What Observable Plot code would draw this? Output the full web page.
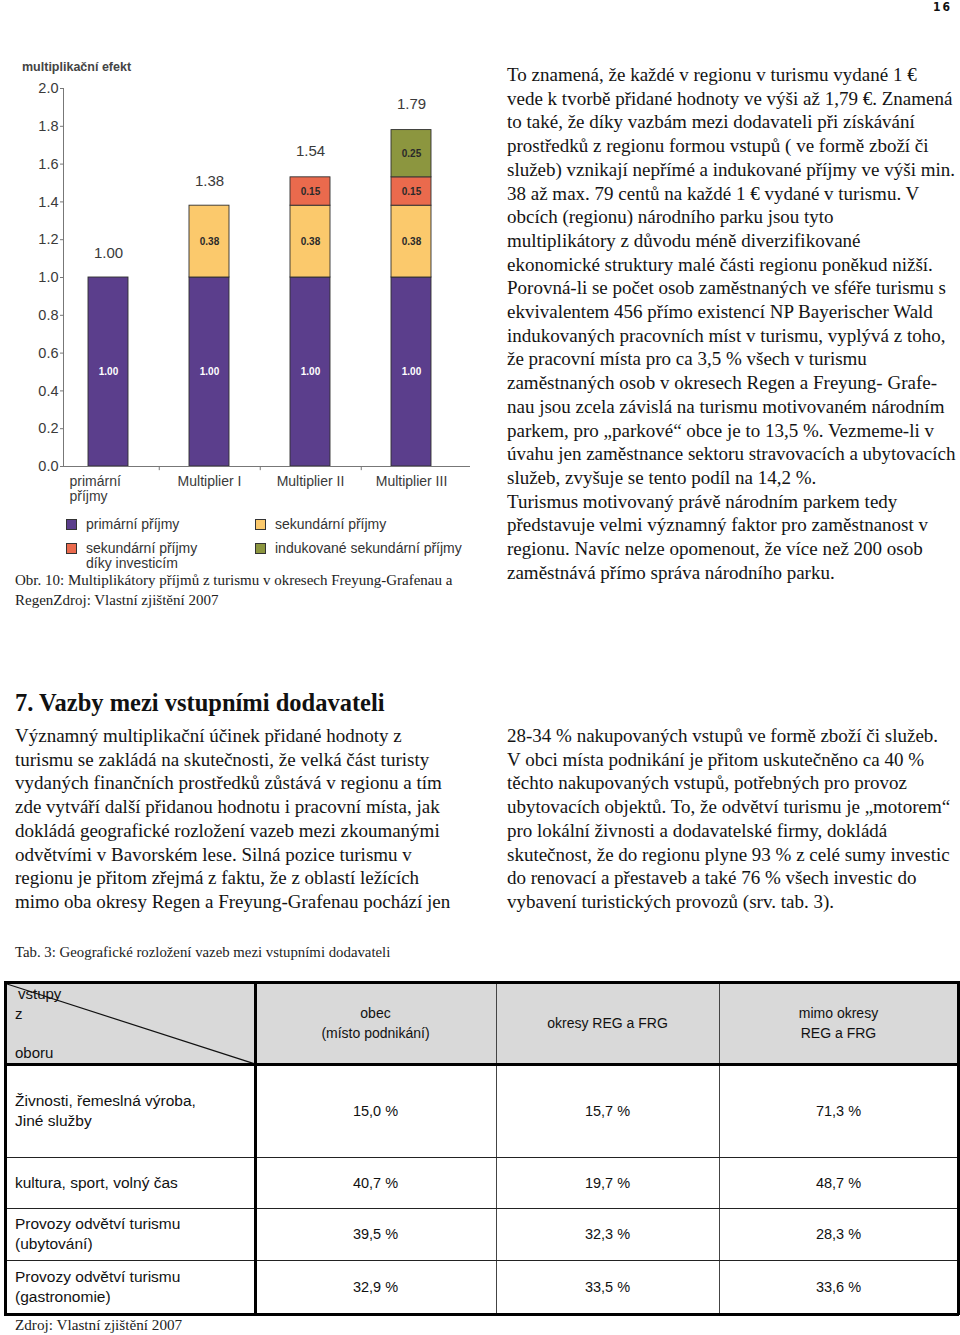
<!DOCTYPE html>
<html>
<head>
<meta charset="utf-8">
<script src="https://cdn.jsdelivr.net/npm/d3@7"></script>
<script src="https://cdn.jsdelivr.net/npm/@observablehq/plot@0.6"></script>
<style>
  html, body { margin: 0; padding: 0; background: #fff; }
  body { width: 960px; height: 1335px; position: relative; overflow: hidden; color: #111; }
  .abs { position: absolute; }
  .serif { font-family: "Liberation Serif", "DejaVu Serif", serif; }
  .body-text { font-size: 19px; line-height: 23.7px; white-space: nowrap; color: #141414; }
  .sans { font-family: "Liberation Sans", Arial, sans-serif; }
  .legend-item { position: absolute; font-family: "Liberation Sans", Arial, sans-serif; font-size: 14px; color: #333; line-height: 15px; white-space: nowrap; }
  .sw { position: absolute; width: 11px; height: 11px; border: 1px solid #333; box-sizing: border-box; }
  .cell { position: absolute; display: flex; align-items: center; font-family: "Liberation Sans", Arial, sans-serif; font-size: 14px; line-height: 20px; color: #111; }
  .cell.c { justify-content: center; text-align: center; }
  .cell.v { font-size: 14.5px; }
  .cell.l { padding-left: 10px; box-sizing: border-box; font-size: 15.5px; }
  .hl { position: absolute; background: #000; }
</style>
</head>
<body>
<div class="abs" style="right:8px; top:0px; font-family:'DejaVu Sans Condensed','DejaVu Sans',sans-serif; font-weight:bold; font-size:12px; letter-spacing:2px;">16</div>

<div class="abs sans" style="left:22px; top:60px; font-size:12.5px; font-weight:bold; color:#444;">multiplikační efekt</div>
<div id="chart" class="abs" style="left:0; top:60px;"></div>
<div id="legend" class="abs" style="left:0; top:510px; width:467px; height:62px; overflow:hidden;"></div>

<div class="abs serif" style="left:15px; top:570px; font-size:15px; line-height:20px; color:#222; white-space:nowrap;">Obr. 10: Multiplikátory příjmů z turismu v okresech Freyung-Grafenau a<br>RegenZdroj: Vlastní zjištění 2007</div>

<div id="rightcol" class="abs serif body-text" style="left:507px; top:63px;"></div>

<div class="abs serif" style="left:15px; top:689px; font-size:24.5px; font-weight:bold; white-space:nowrap; color:#111;">7. Vazby mezi vstupními dodavateli</div>
<div id="leftcol2" class="abs serif body-text" style="left:15px; top:724px;"></div>
<div id="rightcol2" class="abs serif body-text" style="left:507px; top:724px;"></div>

<div class="abs serif" style="left:15px; top:944px; font-size:14.8px; color:#222; white-space:nowrap;">Tab. 3: Geografické rozložení vazeb mezi vstupními dodavateli</div>
<div id="table" class="abs" style="left:0; top:0;"></div>
<div class="abs serif" style="left:15px; top:1316px; font-size:15.2px; color:#222; white-space:nowrap;">Zdroj: Vlastní zjištění 2007</div>

<script>
// ---------- chart data ----------
const categories = ["primární příjmy", "Multiplier I", "Multiplier II", "Multiplier III"];
const categoryLabels = ["primární\npříjmy", "Multiplier I", "Multiplier II", "Multiplier III"];
const seriesNames = ["primární příjmy", "sekundární příjmy", "sekundární příjmy díky investicím", "indukované sekundární příjmy"];
const primaryIncome = [1.00, 1.00, 1.00, 1.00];
const secondaryIncome = [0, 0.38, 0.38, 0.38];
const investmentIncome = [0, 0, 0.15, 0.15];
const inducedIncome = [0, 0, 0, 0.25];
const totals = [1.00, 1.38, 1.54, 1.79];
const yTicks = [0.0, 0.2, 0.4, 0.6, 0.8, 1.0, 1.2, 1.4, 1.6, 1.8, 2.0];
const seriesColors = ["#5b3e8c", "#fbc96c", "#ea6a4d", "#8c963f"];
const legendLabels = ["primární příjmy", "sekundární příjmy", "sekundární příjmy\ndíky investicím", "indukované sekundární příjmy"];

// ---------- text data ----------
const rightLines = [
  "To znamená, že každé v regionu v turismu vydané 1 €",
  "vede k tvorbě přidané hodnoty ve výši až 1,79 €. Znamená",
  "to také, že díky vazbám mezi dodavateli při získávání",
  "prostředků z regionu formou vstupů ( ve formě zboží či",
  "služeb) vznikají nepřímé a indukované příjmy ve výši min.",
  "38 až max. 79 centů na každé 1 € vydané v turismu. V",
  "obcích (regionu) národního parku jsou tyto",
  "multiplikátory z důvodu méně diverzifikované",
  "ekonomické struktury malé části regionu poněkud nižší.",
  "Porovná-li se počet osob zaměstnaných ve sféře turismu s",
  "ekvivalentem 456 přímo existencí NP Bayerischer Wald",
  "indukovaných pracovních míst v turismu, vyplývá z toho,",
  "že pracovní místa pro ca 3,5 % všech v turismu",
  "zaměstnaných osob v okresech Regen a Freyung- Grafe-",
  "nau jsou zcela závislá na turismu motivovaném národním",
  "parkem, pro „parkové“ obce je to 13,5 %. Vezmeme-li v",
  "úvahu jen zaměstnance sektoru stravovacích a ubytovacích",
  "služeb, zvyšuje se tento podíl na 14,2 %.",
  "Turismus motivovaný právě národním parkem tedy",
  "představuje velmi významný faktor pro zaměstnanost v",
  "regionu. Navíc nelze opomenout, že více než 200 osob",
  "zaměstnává přímo správa národního parku."
];
const leftLines2 = [
  "Významný multiplikační účinek přidané hodnoty z",
  "turismu se zakládá na skutečnosti, že velká část turisty",
  "vydaných finančních prostředků zůstává v regionu a tím",
  "zde vytváří další přidanou hodnotu i pracovní místa, jak",
  "dokládá geografické rozložení vazeb mezi zkoumanými",
  "odvětvími v Bavorském lese. Silná pozice turismu v",
  "regionu je přitom zřejmá z faktu, že z oblastí ležících",
  "mimo oba okresy Regen a Freyung-Grafenau pochází jen"
];
const rightLines2 = [
  "28-34 % nakupovaných vstupů ve formě zboží či služeb.",
  "V obci místa podnikání je přitom uskutečněno ca 40 %",
  "těchto nakupovaných vstupů, potřebných pro provoz",
  "ubytovacích objektů. To, že odvětví turismu je „motorem“",
  "pro lokální živnosti a dodavatelské firmy, dokládá",
  "skutečnost, že do regionu plyne 93 % z celé sumy investic",
  "do renovací a přestaveb a také 76 % všech investic do",
  "vybavení turistických provozů (srv. tab. 3)."
];

// ---------- table data ----------
const tableHeaders = ["obec\n(místo podnikání)", "okresy REG a FRG", "mimo okresy\nREG a FRG"];
const tableRowLabels = ["Živnosti, řemeslná výroba,\nJiné služby", "kultura, sport, volný čas", "Provozy odvětví turismu\n(ubytování)", "Provozy odvětví turismu\n(gastronomie)"];
const colObec = ["15,0 %", "40,7 %", "39,5 %", "32,9 %"];
const colOkresy = ["15,7 %", "19,7 %", "32,3 %", "33,5 %"];
const colMimo = ["71,3 %", "48,7 %", "28,3 %", "33,6 %"];

// ---------- text rendering ----------
function fillLines(id, lines) {
  const el = document.getElementById(id);
  el.innerHTML = lines.map(l => `<div>${l}</div>`).join("");
}
fillLines("rightcol", rightLines);
fillLines("leftcol2", leftLines2);
fillLines("rightcol2", rightLines2);

// ---------- chart ----------
const seriesValues = [primaryIncome, secondaryIncome, investmentIncome, inducedIncome];
const rows = [];
categories.forEach((c, i) => {
  seriesNames.forEach((s, j) => {
    const v = seriesValues[j][i];
    if (v > 0) rows.push({category: c, series: s, value: v});
  });
});
const totalRows = categories.map((c, i) => ({category: c, total: totals[i], label: categoryLabels[i]}));

const chart = Plot.plot({
  width: 480,
  height: 450,
  marginLeft: 63,
  marginRight: 10,
  marginTop: 28,
  marginBottom: 44,
  style: {fontFamily: "'Liberation Sans', Arial, sans-serif", fontSize: "14.5px", color: "#3a3a3a", background: "transparent", overflow: "visible"},
  x: {domain: categories, range: [57, 463], paddingInner: 0.6, paddingOuter: 0.3, axis: null},
  y: {domain: [0, 2], axis: null},
  color: {domain: seriesNames, range: seriesColors},
  marks: [
    Plot.barY(rows, {x: "category", y: "value", fill: "series", stroke: "#2f2f2f", strokeWidth: 0.9}),
    Plot.text(rows, Plot.stackY({x: "category", y: "value", z: "series",
      text: d => d.series === seriesNames[0] ? d.value.toFixed(2) : null,
      fill: "white", fontSize: 10, fontWeight: "bold"})),
    Plot.text(rows, Plot.stackY({x: "category", y: "value", z: "series",
      text: d => d.series !== seriesNames[0] ? d.value.toFixed(2) : null,
      fill: "#2a2a2a", fontSize: 10, fontWeight: "bold"})),
    Plot.text(totalRows, {x: "category", y: "total", text: d => d.total.toFixed(2), dy: -24, fontSize: 15, fill: "#3a3a3a"}),
    Plot.frame({anchor: "left", stroke: "#777"}),
    Plot.ruleY([0], {stroke: "#777"}),
    Plot.ruleX(categories.slice(0, 3), {x: d => d, dx: 50.75, y1: () => 0, y2: () => -0.022, stroke: "#777"}),
    Plot.axisY({ticks: yTicks, tickFormat: d => d.toFixed(1), tickSize: 3, tickPadding: 2, fontSize: 14.5, stroke: "#777", fill: "#3a3a3a"}),
    Plot.text(totalRows.slice(0, 1), {x: "category", text: "label", frameAnchor: "bottom", lineAnchor: "top", textAnchor: "start", dx: -39, dy: 9, fontSize: 14, lineHeight: 1.07, fill: "#3a3a3a"}),
    Plot.text(totalRows.slice(1), {x: "category", text: "label", frameAnchor: "bottom", lineAnchor: "top", dy: 9, fontSize: 14, lineHeight: 1.07, fill: "#3a3a3a"})
  ]
});
document.getElementById("chart").appendChild(chart);

// ---------- legend ----------
const legend = document.getElementById("legend");
const legendPos = [[66, 8], [255, 8], [66, 32], [255, 32]];
legendLabels.forEach((lab, i) => {
  const [x, y] = legendPos[i];
  const sw = document.createElement("div");
  sw.className = "sw";
  sw.style.left = x + "px";
  sw.style.top = (y + 1) + "px";
  sw.style.background = seriesColors[i];
  legend.appendChild(sw);
  const t = document.createElement("div");
  t.className = "legend-item";
  t.style.left = (x + 20) + "px";
  t.style.top = (y - 1) + "px";
  t.innerHTML = lab.replace("\n", "<br>");
  legend.appendChild(t);
});

// ---------- table ----------
const table = document.getElementById("table");
const colX = [5, 255, 496, 719, 958];
const rowY = [982, 1064, 1157, 1208, 1260, 1314];
function cell(x0, x1, y0, y1, html, cls, bg) {
  const d = document.createElement("div");
  d.className = "cell " + cls;
  d.style.left = x0 + "px"; d.style.top = y0 + "px";
  d.style.width = (x1 - x0) + "px"; d.style.height = (y1 - y0) + "px";
  if (bg) d.style.background = bg;
  d.innerHTML = html;
  table.appendChild(d);
  return d;
}
function line(x, y, w, h, color) {
  const d = document.createElement("div");
  d.className = "hl";
  d.style.left = x + "px"; d.style.top = y + "px";
  d.style.width = w + "px"; d.style.height = h + "px";
  if (color) d.style.background = color;
  table.appendChild(d);
}
// header background
cell(colX[0], colX[4], rowY[0], rowY[1], "", "c", "#d9d9d9");
tableHeaders.forEach((h, i) => cell(colX[i + 1], colX[i + 2], rowY[0], rowY[1], h.replace("\n", "<br>"), "c"));
// first header cell with diagonal
const hc = cell(colX[0], colX[1], rowY[0], rowY[1], "", "");
hc.style.fontSize = "15px";
hc.innerHTML = `<svg width="${colX[1]-colX[0]}" height="${rowY[1]-rowY[0]}" style="position:absolute;left:0;top:0"><line x1="2" y1="2" x2="${colX[1]-colX[0]}" y2="${rowY[1]-rowY[0]}" stroke="#111" stroke-width="1.2"/></svg>
<div style="position:absolute;left:13px;top:2px">vstupy</div><div style="position:absolute;left:10px;top:22px">z</div><div style="position:absolute;left:10px;top:61px">oboru</div>`;
// body
const dataCols = [colObec, colOkresy, colMimo];
tableRowLabels.forEach((lab, r) => {
  cell(colX[0], colX[1], rowY[r + 1], rowY[r + 2], lab.replace("\n", "<br>"), "l");
  dataCols.forEach((col, c) => cell(colX[c + 1], colX[c + 2], rowY[r + 1], rowY[r + 2], col[r], "c v"));
});
// lines: thin
line(colX[2], rowY[0], 1, rowY[5] - rowY[0], "#444");
line(colX[3], rowY[0], 1, rowY[5] - rowY[0], "#444");
[2, 3, 4].forEach(r => line(colX[0], rowY[r], colX[4] - colX[0], 1, "#222"));
// thick
line(colX[0] - 1, rowY[0] - 1, colX[4] - colX[0] + 2, 3);
line(colX[0] - 1, rowY[5] - 1, colX[4] - colX[0] + 2, 3);
line(colX[0] - 1, rowY[0] - 1, 3, rowY[5] - rowY[0] + 2);
line(colX[4] - 1, rowY[0] - 1, 3, rowY[5] - rowY[0] + 2);
line(colX[1] - 1, rowY[0], 3, rowY[5] - rowY[0]);
line(colX[0], rowY[1] - 1, colX[4] - colX[0], 3);
</script>
</body>
</html>
